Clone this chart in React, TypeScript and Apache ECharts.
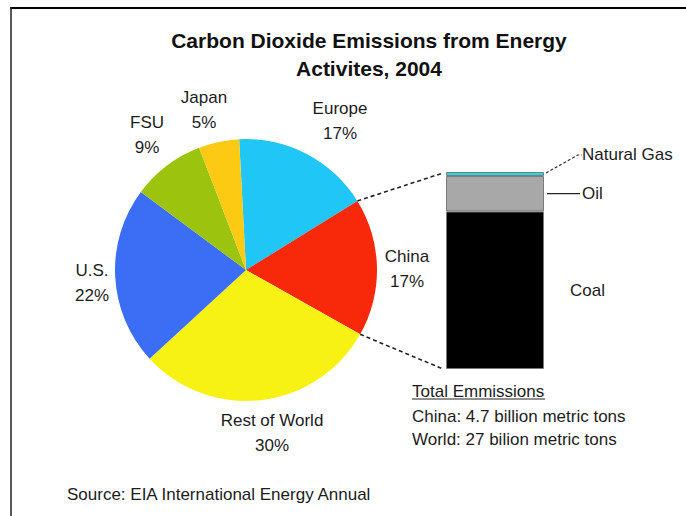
import React, { useEffect, useRef } from "react";
import * as echarts from "echarts";

// Share of world CO2 emissions from energy, 2004 (percent)
const regions = ["Europe", "China", "Rest of World", "U.S.", "FSU", "Japan"];
const shares = [17, 17, 30, 22, 9, 5];
const sliceColors = ["#1fc6f6", "#f8280a", "#f8f214", "#3b6ef4", "#9cc30e", "#fcca12"];

// China's emissions broken down by fuel (percent, bottom to top)
const fuels = ["Coal", "Oil", "Natural Gas"];
const fuelShares = [80, 18, 2];
const fuelColors = ["#000000", "#a8a8a8", "#22dcec"];

const titleLines = ["Carbon Dioxide Emissions from Energy", "Activites, 2004"];
const totalsHeading = "Total Emmissions";
const totalsLines = ["China: 4.7 billion metric tons", "World: 27 bilion metric tons"];
const sourceNote = "Source: EIA International Energy Annual";

const FONT = "'Liberation Sans', Arial, Helvetica, sans-serif";
const TEXT = "#1c1c1c";

// layout
const PIE_CX = 246;
const PIE_CY = 270;
const PIE_R = 131;
const START_ANGLE = 93;
const BAR = { left: 446, top: 172, width: 98, height: 197 };
const LABEL_POS: [number, number][] = [
  [340, 121],
  [407, 269],
  [272, 433],
  [92, 283],
  [147, 135],
  [204, 110],
];

export default function App() {
  const ref = useRef<HTMLDivElement>(null);

  useEffect(() => {
    if (!ref.current) return;
    const chart = echarts.init(ref.current, undefined, { renderer: "svg" });

    const total = shares.reduce((a, b) => a + b, 0);
    // boundaries of the China slice on the pie rim
    const chinaIdx = regions.indexOf("China");
    const before = shares.slice(0, chinaIdx).reduce((a, b) => a + b, 0);
    const rimPoint = (cum: number) => {
      const a = ((START_ANGLE - (cum / total) * 360) * Math.PI) / 180;
      return [PIE_CX + PIE_R * Math.cos(a), PIE_CY - PIE_R * Math.sin(a)];
    };
    const p1 = rimPoint(before);
    const p2 = rimPoint(before + shares[chinaIdx]);

    // vertical pixel of a cumulative fuel share on the stacked bar
    const barY = (cum: number) => BAR.top + BAR.height * (1 - cum / 100);
    const barRight = BAR.left + BAR.width;
    const oilMid = barY(fuelShares[0] + fuelShares[1] / 2);
    const gasTop = barY(100);

    const textStyle = { fontFamily: FONT, fontSize: 17, fill: TEXT };

    chart.setOption({
      animation: false,
      backgroundColor: "#ffffff",
      title: {
        text: titleLines.join("\n"),
        left: 364,
        top: 21,
        textAlign: "center",
        textStyle: {
          fontFamily: FONT,
          fontSize: 21,
          fontWeight: "bold",
          color: "#111",
          lineHeight: 28,
        },
      },
      grid: { left: BAR.left, top: BAR.top, width: BAR.width, height: BAR.height },
      xAxis: { type: "category", data: ["China"], show: false },
      yAxis: { type: "value", min: 0, max: 100, show: false },
      series: [
        {
          type: "pie",
          center: [PIE_CX, PIE_CY],
          radius: PIE_R,
          startAngle: START_ANGLE,
          clockwise: true,
          label: {
            show: true,
            formatter: "{b}\n{c}%",
            fontFamily: FONT,
            fontSize: 17,
            lineHeight: 25,
            color: TEXT,
          },
          labelLine: { show: false },
          labelLayout: (params: any) => ({
            x: LABEL_POS[params.dataIndex][0],
            y: LABEL_POS[params.dataIndex][1],
            align: "center",
            verticalAlign: "middle",
          }),
          emphasis: { disabled: true },
          data: regions.map((name, i) => ({
            name,
            value: shares[i],
            itemStyle: { color: sliceColors[i] },
          })),
        },
        ...fuels.map((name, i) => ({
          type: "bar",
          name,
          stack: "fuel",
          barWidth: "100%",
          data: [fuelShares[i]],
          itemStyle: { color: fuelColors[i], borderColor: "#7a7a7a", borderWidth: 1 },
          label: {
            show: true,
            formatter: "{a}",
            position: "right",
            distance: i === 0 ? 26 : 38,
            offset: i === 2 ? [0, -19] : [0, 0],
            fontFamily: FONT,
            fontSize: 17,
            color: TEXT,
          },
          emphasis: { disabled: true },
        })),
      ],
      graphic: [
        // frame
        { type: "line", shape: { x1: 10, y1: 8, x2: 686, y2: 8 }, style: { stroke: "#000", lineWidth: 2 } },
        { type: "line", shape: { x1: 11, y1: 7, x2: 11, y2: 516 }, style: { stroke: "#222", lineWidth: 1.5 } },
        // connectors from the China slice to the bar
        {
          type: "line",
          shape: { x1: p1[0], y1: p1[1], x2: BAR.left - 3, y2: BAR.top + 1 },
          style: { stroke: "#222", lineWidth: 1.6, lineDash: [4, 3] },
        },
        {
          type: "line",
          shape: { x1: p2[0], y1: p2[1], x2: BAR.left - 3, y2: BAR.top + BAR.height },
          style: { stroke: "#222", lineWidth: 1.6, lineDash: [4, 3] },
        },
        // leader lines
        {
          type: "polyline",
          shape: { points: [[barRight + 2, gasTop + 1], [barRight + 34, gasTop - 17], [barRight + 38, gasTop - 17]] },
          style: { stroke: "#333", lineWidth: 1.2, lineDash: [3, 2], fill: null },
        },
        {
          type: "line",
          shape: { x1: barRight + 3, y1: oilMid, x2: barRight + 36, y2: oilMid },
          style: { stroke: "#222", lineWidth: 1.2 },
        },
        // totals
        {
          type: "text",
          x: 412,
          y: 391,
          style: { ...textStyle, text: totalsHeading, verticalAlign: "middle" },
        },
        { type: "line", shape: { x1: 412, y1: 399, x2: 545, y2: 399 }, style: { stroke: "#222", lineWidth: 1.2 } },
        ...totalsLines.map((t, i) => ({
          type: "text",
          x: 412,
          y: 416 + i * 23,
          style: { ...textStyle, text: t, verticalAlign: "middle" },
        })),
        {
          type: "text",
          x: 67,
          y: 494,
          style: { ...textStyle, text: sourceNote, verticalAlign: "middle" },
        },
      ],
    });

    return () => chart.dispose();
  }, []);

  return (
    <div
      ref={ref}
      style={{ position: "absolute", left: 0, top: 0, width: 686, height: 516, background: "#fff" }}
    />
  );
}
